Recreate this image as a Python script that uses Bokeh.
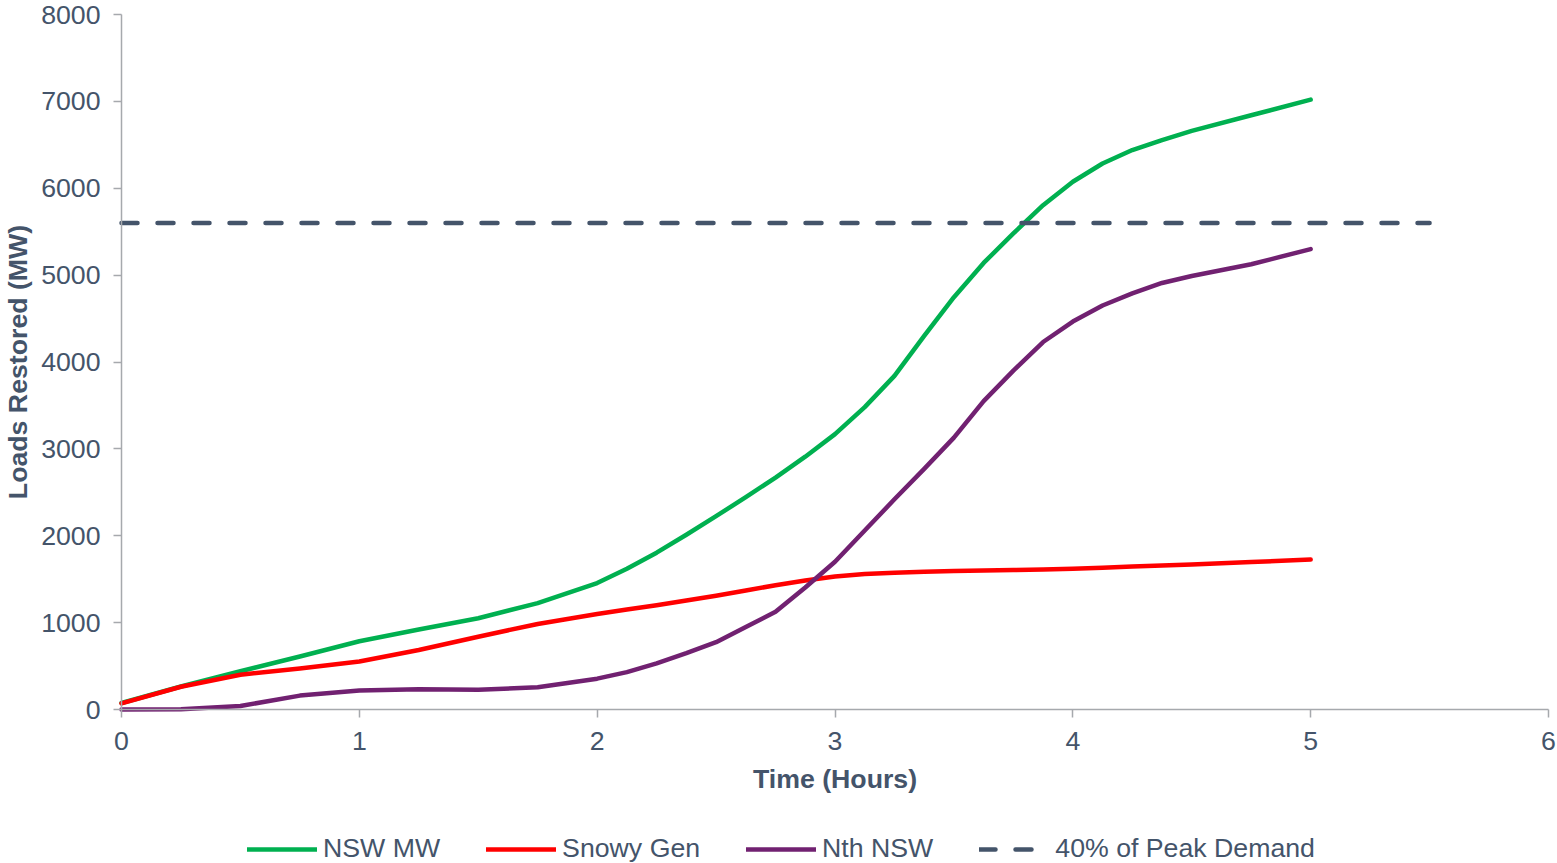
import math
from bokeh.plotting import figure
from bokeh.models import Legend, LegendItem, FixedTicker, Range1d, Label
from bokeh.embed import file_html
from bokeh.resources import INLINE

# ---- data ----
hours = [0, 0.25, 0.5, 0.75, 1, 1.25, 1.5, 1.75, 2, 2.125, 2.25, 2.375, 2.5,
         2.625, 2.75, 2.875, 3, 3.125, 3.25, 3.375, 3.5, 3.625, 3.75, 3.875,
         4, 4.125, 4.25, 4.375, 4.5, 4.75, 5]
nsw_mw = [75, 265, 440, 610, 786, 920, 1050, 1225, 1455, 1620, 1805, 2012, 2225,
          2445, 2670, 2910, 3170, 3480, 3840, 4300, 4746, 5140, 5480, 5805,
          6075, 6285, 6440, 6555, 6660, 6840, 7020]
snowy_gen = [70, 262, 400, 472, 552, 685, 838, 985, 1100, 1150, 1200, 1255, 1310,
             1370, 1430, 1485, 1530, 1560, 1575, 1587, 1595, 1600, 1605, 1611,
             1620, 1632, 1645, 1657, 1670, 1698, 1726]
nth_nsw = [0, 3, 40, 160, 218, 232, 228, 255, 355, 430, 530, 648, 775,
           950, 1125, 1405, 1700, 2060, 2420, 2770, 3130, 3550, 3900, 4230,
           4465, 4650, 4790, 4910, 4990, 5125, 5300]
peak_hours = [0, 5.5]
peak_mw = [5600, 5600]

x_ticks = [0, 1, 2, 3, 4, 5, 6]
y_ticks = [0, 1000, 2000, 3000, 4000, 5000, 6000, 7000, 8000]
x_min, x_max = 0, 6
y_min, y_max = 0, 8000

series_names = ["NSW MW", "Snowy Gen", "Nth NSW", "40% of Peak Demand"]
x_title = "Time (Hours)"
y_title = "Loads Restored (MW)"

# ---- layout / styles ----
W, H = 1557, 863
LEFT_PX, RIGHT_PX = 121, 1548     # screen x of x_min and x_max
TOP_PX, ZERO_PX = 14, 709         # screen y of y_max and y_min
TXT = "#44546A"
FONT = "Liberation Sans"
FS = "26.7px"
AXIS = "#A6A9AD"

# The plotting frame covers the whole page; the axes are pinned at 0 and
# limited to their data span, so that every text sits inside the frame.
ppx = (RIGHT_PX - LEFT_PX) / (x_max - x_min)
ppy = (ZERO_PX - TOP_PX) / (y_max - y_min)
x_range = Range1d(x_min - LEFT_PX / ppx, x_max + (W - RIGHT_PX) / ppx)
y_range = Range1d(y_min - (H - ZERO_PX) / ppy, y_max + TOP_PX / ppy)

p = figure(width=W, height=H, output_backend="svg", toolbar_location=None,
           x_range=x_range, y_range=y_range,
           min_border_left=0, min_border_right=0, min_border_top=0,
           min_border_bottom=0)
p.outline_line_color = None
p.xgrid.visible = False
p.ygrid.visible = False
p.background_fill_color = "white"
p.border_fill_color = "white"

r1 = p.line(hours, nsw_mw, line_color="#00B050", line_width=4.5,
            line_cap="round", line_join="round")
r2 = p.line(hours, snowy_gen, line_color="#FF0000", line_width=4.5,
            line_cap="round", line_join="round")
r3 = p.line(hours, nth_nsw, line_color="#712171", line_width=4.5,
            line_cap="round", line_join="round")
r4 = p.line(peak_hours, peak_mw, line_color="#44546A", line_width=4.5,
            line_dash="16 20", line_cap="round")

for ax, ticks in ((p.xaxis[0], x_ticks), (p.yaxis[0], y_ticks)):
    ax.ticker = FixedTicker(ticks=ticks)
    ax.axis_line_color = AXIS
    ax.axis_line_width = 1.5
    ax.major_tick_line_color = AXIS
    ax.major_tick_line_width = 1.5
    ax.major_tick_out = 8
    ax.major_tick_in = 0
    ax.minor_tick_line_color = None
    ax.major_label_text_font = FONT
    ax.major_label_text_font_size = FS
    ax.major_label_text_color = TXT

p.xaxis[0].fixed_location = y_min
p.xaxis[0].bounds = (x_min, x_max)
p.yaxis[0].fixed_location = x_min
p.yaxis[0].bounds = (y_min, y_max)
p.xaxis[0].major_label_standoff = 14
p.yaxis[0].major_label_standoff = 13

# axis titles
p.add_layout(Label(x=(x_min + x_max) / 2, y=85, y_units="screen", text=x_title,
                   text_align="center", text_baseline="middle",
                   text_font=FONT, text_font_size=FS, text_font_style="bold",
                   text_color=TXT))
p.add_layout(Label(x=17, x_units="screen", y=(y_min + y_max) / 2, text=y_title,
                   angle=math.pi / 2, text_align="center", text_baseline="middle",
                   text_font=FONT, text_font_size=FS, text_font_style="bold",
                   text_color=TXT))

legend = Legend(
    items=[LegendItem(label=series_names[0], renderers=[r1]),
           LegendItem(label=series_names[1], renderers=[r2]),
           LegendItem(label=series_names[2], renderers=[r3]),
           LegendItem(label=series_names[3], renderers=[r4])],
    orientation="horizontal", location=(247, -1),
    glyph_width=70, glyph_height=30, label_standoff=6, spacing=46,
    padding=0, margin=0, border_line_color=None, background_fill_alpha=0,
    label_text_font=FONT, label_text_font_size=FS, label_text_color=TXT,
)
p.add_layout(legend, "center")

open("out.html", "w").write(file_html(p, INLINE))
